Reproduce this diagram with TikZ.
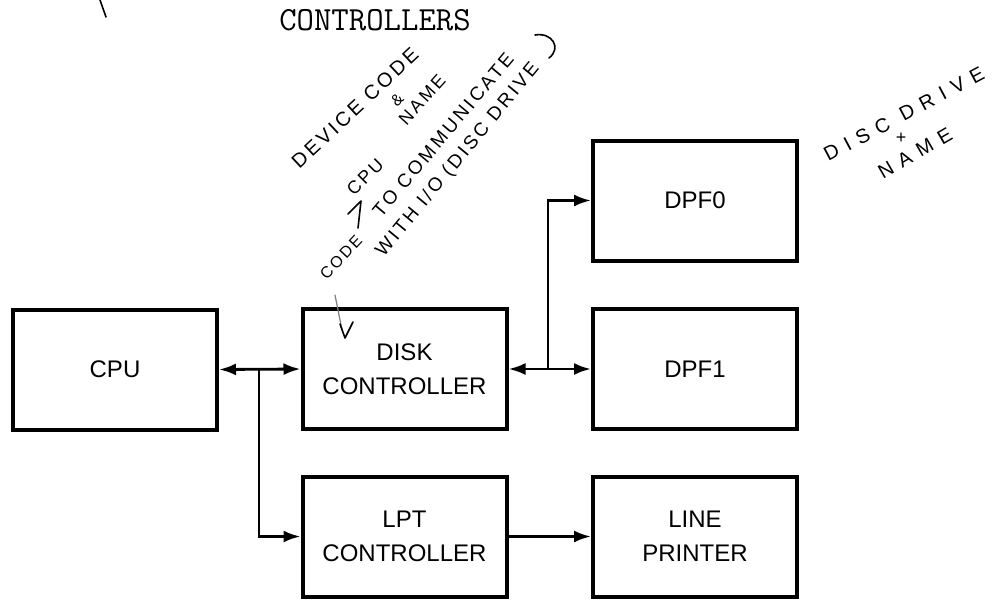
\documentclass[tikz,border=0pt]{standalone}
\usepackage{fontspec}
\setmainfont{Liberation Sans}
\newfontfamily\handfont[LetterSpace=15]{Liberation Sans}
\newfontfamily\handwide[LetterSpace=40]{Liberation Sans}
\usetikzlibrary{arrows.meta}

\begin{document}
\begin{tikzpicture}[x=0.5pt,y=-0.5pt,
  blockbox/.style={draw, line width=2pt, inner sep=0pt, minimum width=102pt,
    minimum height=60pt, align=center, font=\fontsize{12}{17}\selectfont},
  arrowline/.style={line width=1.4pt, -{Latex[length=8.5pt,width=6pt]}},
  dualline/.style={line width=1.4pt,
    {Latex[length=8.5pt,width=6pt]}-{Latex[length=8.5pt,width=6pt]}},
  scrawl/.style={inner sep=0pt, font=\handfont\fontsize{10}{12}\selectfont},
  scrawlwide/.style={inner sep=0pt, font=\handwide\fontsize{10}{12}\selectfont},
  penline/.style={line width=0.8pt, line cap=round, line join=round}
]
\useasboundingbox (0,0) rectangle (999,600);

% heading, typewritten
\node[inner sep=0pt, font=\ttfamily\addfontfeatures{FakeBold=1.2}\fontsize{16.9}{18}\selectfont] (title) at (375,20) {CONTROLLERS};

% blocks
\node[blockbox] (cpu)  at (115,369.5)  {CPU};
\node[blockbox] (disk) at (404.5,369)  {DISK\\CONTROLLER};
\node[blockbox] (lpt)  at (404.5,536.5) {LPT\\CONTROLLER};
\node[blockbox] (dpf0) at (695,200.5)  {DPF0};
\node[blockbox] (dpf1) at (695,369)    {DPF1};
\node[blockbox] (lp)   at (695,536.5)  {LINE\\PRINTER};

% buses
\coordinate (j1) at (259,369);
\coordinate (j2) at (548,369);
\draw[dualline] (cpu.east) -- (disk.west);
\draw[arrowline] (j1) |- (lpt.west);
\draw[dualline] (disk.east) -- (dpf1.west);
\draw[arrowline] (j2) |- (dpf0.west);
\draw[arrowline] (lpt.east) -- (lp.west);

% handwritten notes
\node[scrawl, rotate=43] (n1) at (355,108) {DEVICE CODE};
\node[scrawl, rotate=45, font=\handfont\fontsize{8}{10}\selectfont] (n2) at (397,100) {\&};
\node[scrawl, rotate=48, font=\handfont\fontsize{9}{10}\selectfont] (n3) at (422,100) {NAME};
\node[scrawl, rotate=45, font=\handfont\fontsize{9}{10}\selectfont] (n4) at (365,177) {CPU};
\node[scrawl, rotate=47, font=\handfont\fontsize{8}{10}\selectfont] (n5) at (341,257) {CODE};
\node[scrawl, rotate=50, font=\handfont\fontsize{9.5}{11}\selectfont] (n6) at (443,135) {TO COMMUNICATE};
\node[scrawl, rotate=50.5, font=\handfont\fontsize{9.5}{11}\selectfont] (n7) at (458,160) {WITH I/O (DISC DRIVE};
\draw[penline] (348,214) -- (361,201) -- (358,228);
\draw[penline] (535,35) .. controls (552,32) and (562,48) .. (549,58);

\node[scrawlwide, rotate=28] (n8) at (904,114) {DISC DRIVE};
\node[scrawl, font=\handfont\fontsize{9}{10}\selectfont] (n9) at (901,138) {+};
\node[scrawlwide, rotate=30] (n10) at (915,153) {NAME};

% pencil arrow into the disk controller
\draw[penline, gray, line width=0.6pt] (335,295) -- (342,330);
\draw[penline] (340,324) -- (345,338) -- (353,322);

% stray stroke at the top
\draw[penline] (100,0) -- (106,17);
\end{tikzpicture}
\end{document}
